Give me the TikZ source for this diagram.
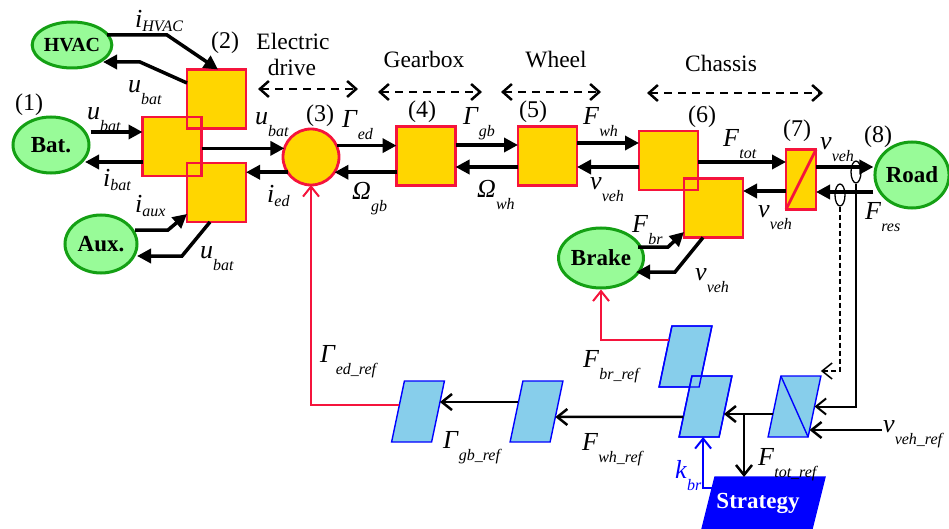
\documentclass[tikz,border=0pt]{standalone}
\usepackage{fontspec}
\setmainfont{Liberation Serif}
\usetikzlibrary{arrows.meta,shapes.geometric,calc}
\definecolor{emryellow}{RGB}{255,214,0}
\definecolor{emrred}{RGB}{245,20,60}
\definecolor{emrgreen}{RGB}{152,251,152}
\definecolor{emrgreenb}{RGB}{20,160,20}
\definecolor{emrlblue}{RGB}{135,206,235}
\definecolor{emrblue}{RGB}{0,0,255}
\newcommand{\lab}[2]{\fontsize{26}{26}\selectfont\textit{#1}\raisebox{-12pt}{\fontsize{16}{16}\selectfont\textit{#2}}}
\newcommand{\labi}[2]{\fontsize{26}{26}\selectfont\textit{#1}\raisebox{-4pt}{\fontsize{16}{16}\selectfont\textit{#2}}}
\tikzset{
  src/.style={ellipse, draw=emrgreenb, fill=emrgreen, line width=3pt, inner sep=0pt, font=\fontsize{23}{23}\selectfont\bfseries},
  conv/.style={rectangle, draw=emrred, fill=emryellow, line width=2.8pt, inner sep=0pt, outer sep=0pt, minimum width=59pt, minimum height=59pt},
  acc/.style={circle, draw=emrred, fill=emryellow, line width=2.8pt, inner sep=0pt, outer sep=0pt, minimum size=56pt},
  ctrl/.style={rectangle, draw=emrblue, fill=emrlblue, line width=1.4pt, inner sep=0pt, outer sep=0pt, minimum width=40pt, minimum height=61pt},
  pw/.style={line width=3.5pt, -{Triangle[length=14pt,width=14pt]}},
  sg/.style={line width=2.5pt, -{Straight Barb[length=10pt,width=16pt]}},
  rsg/.style={emrred, line width=2pt, -{Straight Barb[length=10pt,width=16pt]}},
  bsg/.style={emrblue, line width=2pt, -{Straight Barb[length=10pt,width=16pt]}},
  dbl/.style={line width=2.5pt, dash pattern=on 8pt off 6pt, {Straight Barb[length=9pt,width=16pt]}-{Straight Barb[length=9pt,width=16pt]}},
  txt/.style={font=\fontsize{23.5}{23.5}\selectfont, inner sep=0pt},
  num/.style={font=\fontsize{24}{24}\selectfont, inner sep=0pt},
  lbl/.style={anchor=base west, inner sep=0pt},
  sensor/.style={ellipse, draw, line width=1.3pt, minimum width=10pt, minimum height=22pt, inner sep=0pt},
}
\newcommand{\slanted}[5]{%
  \begin{scope}[shift={(#2,#3)}, xslant=#4]
    \node[transform shape, #5] (#1) at (0,0) {};
  \end{scope}}
\begin{document}
\begin{tikzpicture}[x=1pt,y=-1pt]
\useasboundingbox (0,0) rectangle (949,529);
% sources
\node[src, minimum width=76pt, minimum height=46pt, font=\fontsize{20}{20}\selectfont\bfseries] (hvac) at (72,45) {HVAC};
\node[src, minimum width=76pt, minimum height=56pt] (bat) at (51,145) {Bat.};
\node[src, minimum width=72pt, minimum height=58pt] (aux) at (101,244) {Aux.};
\node[src, minimum width=76pt, minimum height=60pt] (brake) at (601,258) {Brake};
\node[src, minimum width=70pt, minimum height=66pt] (road) at (912,175) {Road};
% conversion elements
\node[conv] (b2t) at (216.5,99) {};
\node[conv] (b2m) at (172,146.5) {};
\node[conv] (b2b) at (216.5,192.5) {};
\node[acc] (c3) at (311,157) {};
\node[conv] (b4) at (426,156) {};
\node[conv] (b5) at (547.5,156) {};
\node[conv] (b6t) at (668.5,160.5) {};
\node[conv] (b6b) at (713.5,208) {};
\node[conv, minimum width=30pt, minimum height=60pt] (b7) at (801,179.5) {};
\draw[emrred, line width=2.8pt] (b7.south west) -- (b7.north east);
\foreach \n in {b2t,b2m,b2b,b6t,b6b}
  \draw[emrred, line width=2.8pt] (\n.south west) rectangle (\n.north east);
% control elements
\slanted{gbref}{418}{411.5}{0.21}{ctrl}
\slanted{whref}{536.5}{411.5}{0.21}{ctrl}
\slanted{brk}{685.5}{356.5}{0.21}{ctrl}
\slanted{main}{705.5}{406.5}{0.21}{ctrl}
\slanted{inv}{794.5}{406.5}{0.21}{ctrl}
\draw[emrblue, line width=1.4pt] (inv.north west) -- (inv.south east);
\foreach \n in {brk,main}
  \draw[emrblue, line width=1.4pt] (\n.north west) -- (\n.north east) -- (\n.south east) -- (\n.south west) -- cycle;
\slanted{strat}{763}{505}{0.25}{ctrl, fill=emrblue, minimum width=110pt, minimum height=56pt}
\node[font=\fontsize{23}{23}\selectfont\bfseries, text=white, inner sep=0pt] (strattxt) at ($(strat.center)+(-5,-2)$) {Strategy};
% power links
\draw[pw] ($(hvac.center)+(35,-10)$) -- (167,35) -- (b2t.north -| 218,0);
\draw[pw] (b2t.west |- 0,83) -- (140,62) -- ($(hvac.center)+(31,17)$);
\draw[pw] (bat.east |- 0,132) -- (b2m.west |- 0,132);
\draw[pw] (b2m.west |- 0,162) -- ($(bat.center)+(34,17)$);
\draw[pw] ($(aux.center)+(34,-14)$) -- (168,230) -- (b2b.west |- 0,214);
\draw[pw] (b2b.south -| 210,0) -- (182,256) -- ($(aux.center)+(36,12)$);
\draw[pw] (b2m.east |- c3.162) -- (c3.162);
\draw[pw] (c3.213) -- (c3.213 -| b2b.east);
\draw[pw] (c3.24) -- (c3.24 -| b4.west);
\draw[pw] (b4.west |- c3.-33) -- (c3.-33);
\draw[pw] (b4.east |- 0,145) -- (b5.west |- 0,145);
\draw[pw] (b5.west |- 0,167) -- (b4.east |- 0,167);
\draw[pw] (b5.east |- 0,143) -- (b6t.west |- 0,143);
\draw[pw] (b6t.west |- 0,167) -- (b5.east |- 0,167);
\draw[pw] (b6t.east |- 0,162) -- (b7.west |- 0,162);
\draw[pw] (b7.west |- 0,191) -- (b6b.east |- 0,191);
\draw[pw] (b7.east |- 0,167) -- (road.west |- 0,167);
\draw[pw] (road.west |- 0,192) -- (b7.east |- 0,192);
\draw[pw] ($(brake.center)+(37,-11)$) -- (668,247) -- (b6b.west |- 0,232);
\draw[pw] (b6b.south -| 703,0) -- (675,272) -- ($(brake.center)+(35,14)$);
% sensors
\node[sensor] (s1) at (856,172) {};
\node[sensor] (s2) at (840,195) {};
% control links
\coordinate (mainR) at ($(main.east)!0.246!(main.south east)$);
\coordinate (invL) at ($(inv.west)!0.246!(inv.south west)$);
\coordinate (mainL) at ($(main.west)!0.344!(main.south west)$);
\coordinate (whR) at ($(whref.east)!0.18!(whref.south east)$);
\coordinate (whL) at ($(whref.west)!0.31!(whref.north west)$);
\coordinate (gbR) at ($(gbref.east)!0.31!(gbref.north east)$);
\coordinate (gbL) at ($(gbref.west)!0.21!(gbref.north west)$);
\coordinate (brkL) at ($(brk.west)!0.54!(brk.north west)$);
\coordinate (invR) at ($(inv.east)!0.77!(inv.south east)$);
\coordinate (stratL) at ($(strat.west)!0.607!(strat.north west)$);
\coordinate (kb) at ($(main.south)+(4,0)$);
\coordinate (dashE) at ($(inv.north east)+(0,-5)$);
\coordinate (tj) at ($(mainR)!0.41!(invL)$);
\draw[sg] (invL) -- (mainR);
\draw[sg] (tj) -- (tj |- strat.north);
\draw[sg] (mainL) -- (whR);
\draw[sg] (whL) -- (gbR);
\draw[rsg] (gbL) -- (gbL -| c3.south) -- (c3.south);
\draw[rsg] (brkL) -- (brkL -| brake.south) -- (brake.south);
\draw[bsg] (stratL) -- (stratL -| kb) -- (kb);
\draw[sg, line width=2pt] (s1.south) -- (s1.south |- inv.east) -- (inv.east);
\draw[sg, line width=1.5pt, dash pattern=on 5pt off 3pt] (s2.south) -- (s2.south |- dashE) -- (dashE);
\draw[sg] (invR -| 882,0) -- (invR);
% dashed range arrows
\coordinate (e1) at (258,89); \coordinate (e2) at (358,89);
\coordinate (g1) at (378,92); \coordinate (g2) at (482,92);
\coordinate (w1) at (501,92); \coordinate (w2) at (601,92);
\coordinate (h1) at (647,93); \coordinate (h2) at (823,93);
\draw[dbl] (e1) -- (e2);
\draw[dbl] (g1) -- (g2);
\draw[dbl] (w1) -- (w2);
\draw[dbl] (h1) -- (h2);
\node[txt, anchor=base] (tel) at (293,50) {Electric};
\node[txt, anchor=base] (tdr) at (292,76) {drive};
\node[txt, anchor=base] (tgb) at (424,68) {Gearbox};
\node[txt, anchor=base] (twh) at (556,68) {Wheel};
\node[txt, anchor=base] (tch) at (721,72) {Chassis};
% numbers
\node[num] (n1) at (29,105) {(1)};
\node[num] (n2) at (225,43) {(2)};
\node[num] (n3) at (320,116) {(3)};
\node[num] (n4) at (422,112) {(4)};
\node[num] (n5) at (533,112) {(5)};
\node[num] (n6) at (702,117) {(6)};
\node[num] (n7) at (797,131) {(7)};
\node[num] (n8) at (878,137) {(8)};
% labels
\node[lbl] (l1) at (135,28) {\labi{i}{HVAC}};
\node[lbl] (l2) at (128,93) {\lab{u}{bat}};
\node[lbl] (l3) at (87,120) {\lab{u}{bat}};
\node[lbl] (l4) at (103,187) {\labi{i}{bat}};
\node[lbl] (l5) at (135,213) {\labi{i}{aux}};
\node[lbl] (l6) at (200,258) {\lab{u}{bat}};
\node[lbl] (l7) at (255,125) {\lab{u}{bat}};
\node[lbl] (l8) at (267,203) {\labi{i}{ed}};
\node[lbl] (l9) at (342,128) {\lab{Γ}{ed}};
\node[lbl] (l10) at (352,200) {\lab{Ω}{gb}};
\node[lbl] (l11) at (463,125) {\lab{Γ}{gb}};
\node[lbl] (l12) at (477,198) {\lab{Ω}{wh}};
\node[lbl] (l13) at (583,125) {\lab{F}{wh}};
\node[lbl] (l14) at (590,190) {\lab{v}{veh}};
\node[lbl] (l15) at (723,147) {\lab{F}{tot}};
\node[lbl] (l16) at (820,150) {\lab{v}{veh}};
\node[lbl] (l17) at (758,218) {\lab{v}{veh}};
\node[lbl] (l18) at (865,220) {\lab{F}{res}};
\node[lbl] (l19) at (632,233) {\lab{F}{br}};
\node[lbl] (l20) at (695,280) {\lab{v}{veh}};
\node[lbl] (l21) at (320,362) {\lab{Γ}{ed\_ref}};
\node[lbl] (l22) at (583,367) {\lab{F}{br\_ref}};
\node[lbl] (l23) at (443,448) {\lab{Γ}{gb\_ref}};
\node[lbl] (l24) at (582,450) {\lab{F}{wh\_ref}};
\node[lbl] (l25) at (758,465) {\lab{F}{tot\_ref}};
\node[lbl] (l26) at (883,432) {\lab{v}{veh\_ref}};
\node[lbl, text=emrblue] (l27) at (675,478) {\lab{k}{br}};
\end{tikzpicture}
\end{document}
